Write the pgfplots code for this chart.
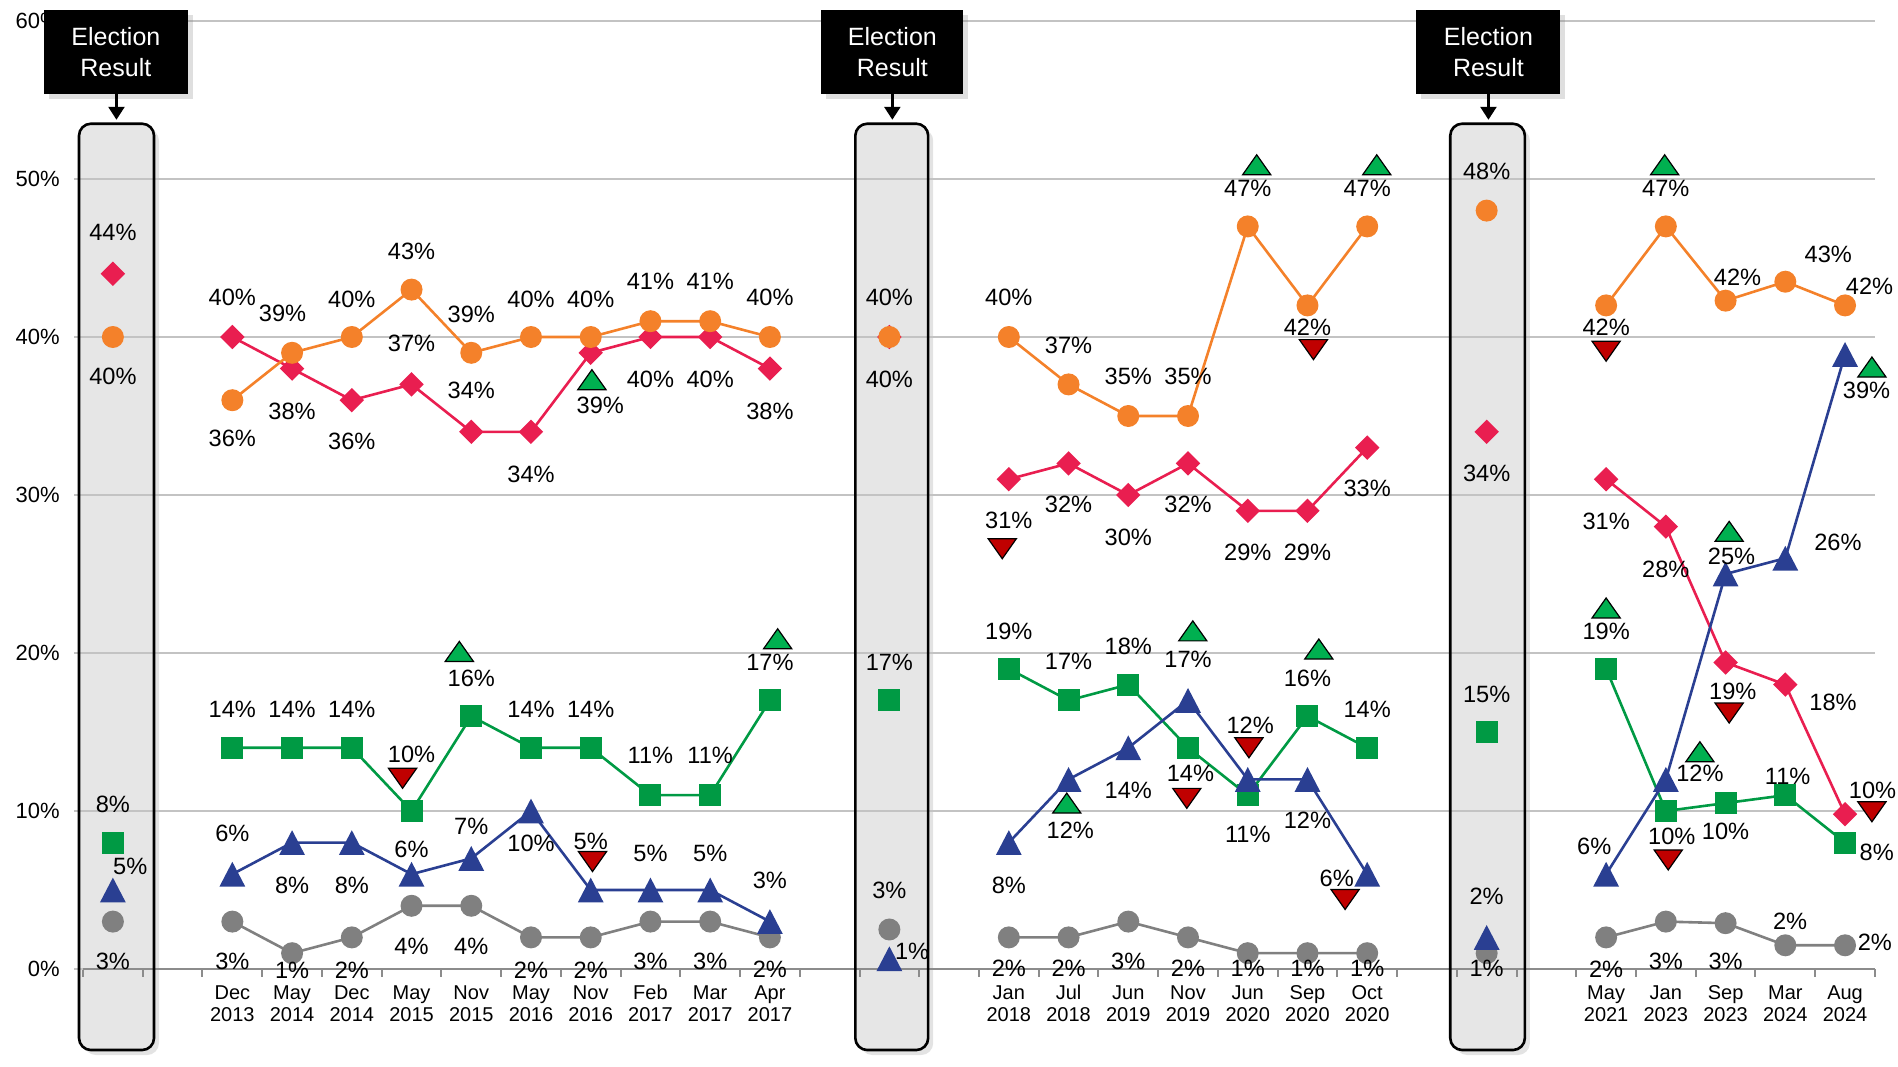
\documentclass[border=0pt]{standalone}
\usepackage{fontspec}
\setmainfont{Liberation Sans}
\usepackage{pgfplots}
\usepackage{pgfplotstable}
\pgfplotsset{compat=1.18}
\usetikzlibrary{arrows.meta,shadows}

\definecolor{cOrange}{RGB}{244,129,42}
\definecolor{cRed}{RGB}{233,30,80}
\definecolor{cGreen}{RGB}{0,154,68}
\definecolor{cBlue}{RGB}{42,63,146}
\definecolor{cGray}{RGB}{128,128,128}
\definecolor{upGreen}{RGB}{0,176,80}
\definecolor{dnRed}{RGB}{192,0,0}
\definecolor{gridgray}{RGB}{195,195,195}
\definecolor{axisgray}{RGB}{140,140,140}
\definecolor{boxgray}{RGB}{230,230,230}

\newcommand\lab{\fontsize{11.8}{12}\selectfont}

% marks centred on their bounding box
\pgfdeclareplotmark{dot}{\pgfpathcircle{\pgfpointorigin}{\pgfplotmarksize}\pgfusepathqfill}
\pgfdeclareplotmark{sq}{\pgfpathrectangle{\pgfpoint{-\pgfplotmarksize}{-\pgfplotmarksize}}{\pgfpoint{2\pgfplotmarksize}{2\pgfplotmarksize}}\pgfusepathqfill}
\pgfdeclareplotmark{dia}{%
  \pgfpathmoveto{\pgfpoint{0pt}{\pgfplotmarksize}}%
  \pgfpathlineto{\pgfpoint{\pgfplotmarksize}{0pt}}%
  \pgfpathlineto{\pgfpoint{0pt}{-\pgfplotmarksize}}%
  \pgfpathlineto{\pgfpoint{-\pgfplotmarksize}{0pt}}%
  \pgfpathclose\pgfusepathqfill}
\pgfdeclareplotmark{tri}{%
  \pgfpathmoveto{\pgfpoint{0pt}{\pgfplotmarksize}}%
  \pgfpathlineto{\pgfpoint{1.04\pgfplotmarksize}{-\pgfplotmarksize}}%
  \pgfpathlineto{\pgfpoint{-1.04\pgfplotmarksize}{-\pgfplotmarksize}}%
  \pgfpathclose\pgfusepathqfill}
\pgfdeclareplotmark{chup}{%
  \pgfpathmoveto{\pgfpoint{0pt}{\pgfplotmarksize}}%
  \pgfpathlineto{\pgfpoint{1.41\pgfplotmarksize}{-\pgfplotmarksize}}%
  \pgfpathlineto{\pgfpoint{-1.41\pgfplotmarksize}{-\pgfplotmarksize}}%
  \pgfpathclose\pgfusepathqfillstroke}
\pgfdeclareplotmark{chdn}{%
  \pgfpathmoveto{\pgfpoint{0pt}{-\pgfplotmarksize}}%
  \pgfpathlineto{\pgfpoint{1.41\pgfplotmarksize}{\pgfplotmarksize}}%
  \pgfpathlineto{\pgfpoint{-1.41\pgfplotmarksize}{\pgfplotmarksize}}%
  \pgfpathclose\pgfusepathqfillstroke}

% tick labels under the election boxes, grid above them
\pgfplotsset{
  layers/boxes/.define layer set={
    axis background,axis tick labels,pre main,axis grid,axis ticks,axis lines,main,axis descriptions,axis foreground
  }{
    grid style={/pgfplots/on layer=axis grid},
    tick style={/pgfplots/on layer=axis ticks},
    axis line style={/pgfplots/on layer=axis lines},
    label style={/pgfplots/on layer=axis descriptions},
    legend style={/pgfplots/on layer=axis descriptions},
    title style={/pgfplots/on layer=axis descriptions},
    ticklabel style={/pgfplots/on layer=axis tick labels},
  },
}

\pgfplotstableread{
x y
0 40
1 nan
2 36
3 39
4 40
5 43
6 39
7 40
8 40
9 41
10 41
11 40
12 nan
13 40
14 nan
15 40
16 37
17 35
18 35
19 47
20 42
21 47
22 nan
23 48
24 nan
25 42
26 47
27 42.3
28 43.5
29 42
}\orange

\pgfplotstableread{
x y
0 44
1 nan
2 40
3 38
4 36
5 37
6 34
7 34
8 39
9 40
10 40
11 38
12 nan
13 40
14 nan
15 31
16 32
17 30
18 32
19 29
20 29
21 33
22 nan
23 34
24 nan
25 31
26 28
27 19.4
28 18
29 9.8
}\red

\pgfplotstableread{
x y
0 8
1 nan
2 14
3 14
4 14
5 10
6 16
7 14
8 14
9 11
10 11
11 17
12 nan
13 17
14 nan
15 19
16 17
17 18
18 14
19 11
20 16
21 14
22 nan
23 15
24 nan
25 19
26 10
27 10.5
28 11
29 8
}\green

\pgfplotstableread{
x y
0 5
1 nan
2 6
3 8
4 8
5 6
6 7
7 10
8 5
9 5
10 5
11 3
12 nan
13 0.65
14 nan
15 8
16 12
17 14
18 17
19 12
20 12
21 6
22 nan
23 2
24 nan
25 6
26 12
27 25
28 26
29 38.9
}\blue

\pgfplotstableread{
x y
0 3
1 nan
2 3
3 1
4 2
5 4
6 4
7 2
8 2
9 3
10 3
11 2
12 nan
13 2.5
14 nan
15 2
16 2
17 3
18 2
19 1
20 1
21 1
22 nan
23 1
24 nan
25 2
26 3
27 2.9
28 1.5
29 1.5
}\grey

\pgfplotstableread{
x y
5.8 20.1
8.02 37.3
11.13 20.9
15.97 10.5
18.08 21.4
19.15 50.9
20.19 20.25
21.16 50.9
25.0 22.85
25.98 50.9
26.57 13.75
27.06 27.7
29.45 38.1
}\ups

\pgfplotstableread{
x y
4.85 12.07
8.03 6.8
14.89 26.6
17.98 10.8
19.02 14.0
20.1 39.2
20.63 4.4
25.0 39.1
26.04 6.9
27.06 16.2
29.45 9.95
}\downs

% value labels: where each is set, and its text
\pgfplotstableread{
x y t
0 46.6 44
0 37.5 40
0 10.45 8
0.29 6.5 5
0 0.46 3
2 42.5 40
2 33.6 36
2 16.4 14
2 8.6 6
2 0.46 3
2.84 41.5 39
3 35.3 38
3 16.4 14
3 5.3 8
3 -0.06 1
4 42.4 40
4 33.4 36
4 16.4 14
4 5.3 8
4 -0.06 2
5 45.4 43
5 39.6 37
5 13.6 10
5 7.6 6
5 1.46 4
6 41.45 39
6 36.6 34
6 18.4 16
6 9.05 7
6 1.46 4
7 42.4 40
7 31.3 34
7 16.4 14
7 7.95 10
7 -0.06 2
8 42.4 40
8.16 35.7 39
8 16.4 14
8 8.1 5
8 -0.06 2
9 43.5 41
9 37.3 40
9 13.5 11
9 7.3 5
9 0.5 3
10 43.5 41
10 37.3 40
10 13.5 11
10 7.3 5
10 0.5 3
11 42.5 40
11 35.3 38
11 19.4 17
11 5.6 3
11 0 2
13 42.5 40
13 37.3 40
13 19.4 17
13 5.0 3
13.38 1.1 1
15 42.5 40
15 28.4 31
15 21.35 19
15 5.3 8
15 0.06 2
16 39.5 37
16 29.4 32
16 19.45 17
16.03 8.8 12
16 0.06 2
17 37.5 35
17 27.3 30
17 20.4 18
17 11.3 14
17 0.46 3
18 37.5 35
18 29.4 32
18 19.6 17
18.04 12.4 14
18 0.06 2
19 49.4 47
19 26.35 29
19.04 15.4 12
19 8.5 11
19 0.06 1
20 40.6 42
20 26.35 29
20 18.4 16
20 9.4 12
20 0.06 1
21 49.4 47
21 30.4 33
21 16.45 14
20.49 5.75 6
21 0.06 1
23 50.5 48
23 31.4 34
23 17.4 15
23 4.6 2
23 0.06 1
25 40.6 42
25 28.3 31
25 21.4 19
24.8 7.75 6
25 0 2
26 49.4 47
26 25.3 28
26.57 12.4 12
26.1 8.4 10
26 0.46 3
27.2 43.8 42
27.12 17.6 19
27.1 26.1 25
27 8.7 10
27 0.46 3
28.72 45.25 43
28.8 16.9 18
28.88 27.0 26
28.04 12.2 11
28.08 3.0 2
29.41 43.2 42
29.46 11.3 10
29.36 36.6 39
29.53 7.4 8
29.5 1.66 2
}\labels

\begin{document}
\begin{tikzpicture}
\begin{axis}[
    set layers=boxes,
    x=29.865pt, y=7.9pt,
    xmin=-0.5, xmax=29.5,
    ymin=0, ymax=60,
    clip=false,
    axis x line*=bottom, axis y line*=left,
    x axis line style={draw=axisgray, line width=1pt},
    y axis line style={draw=none},
    ymajorgrids=true,
    grid style={draw=gridgray, line width=1pt},
    tick align=outside,
    major tick length=4.5pt, minor tick length=4pt,
    ytick={0,10,20,30,40,50,60},
    yticklabels={0\%,10\%,20\%,30\%,40\%,50\%,60\%},
    ytick style={draw=gridgray, line width=1pt},
    yticklabel style={font=\fontsize{11}{12}\selectfont, anchor=east, inner sep=0pt, xshift=-7pt},
    xtick={0,2,3,4,5,6,7,8,9,10,11,15,16,17,18,19,20,21,25,26,27,28,29},
    xticklabels={{~\\~\\~\\[-2.5pt]2013},{Dec\\2013},{May\\2014},{Dec\\2014},{May\\2015},{Nov\\2015},{May\\2016},{Nov\\2016},{Feb\\2017},{Mar\\2017},{Apr\\2017},
      {Jan\\2018},{Jul\\2018},{Jun\\2019},{Nov\\2019},{Jun\\2020},{Sep\\2020},{Oct\\2020},
      {May\\2021},{Jan\\2023},{Sep\\2023},{Mar\\2024},{Aug\\2024}},
    xticklabel style={font=\fontsize{10}{11}\selectfont, align=center, anchor=north, inner sep=0pt, yshift=-3.5pt},
    major x tick style={draw=none},
    minor xtick={-0.5,0.5,...,29.5},
    minor x tick style={draw=axisgray, line width=1pt},
    unbounded coords=jump,
    every axis plot/.append style={line width=1.3pt},
]

% election boxes: fill under the grid, border over it
\begin{pgfonlayer}{pre main}
\fill[boxgray, rounded corners=6pt, drop shadow={shadow xshift=2.5pt, shadow yshift=-2.5pt, opacity=0.22}]
  (axis cs:-0.567,-5.13) rectangle (axis cs:0.689,53.5);
\fill[boxgray, rounded corners=6pt, drop shadow={shadow xshift=2.5pt, shadow yshift=-2.5pt, opacity=0.22}]
  (axis cs:12.43,-5.13) rectangle (axis cs:13.65,53.5);
\fill[boxgray, rounded corners=6pt, drop shadow={shadow xshift=2.5pt, shadow yshift=-2.5pt, opacity=0.22}]
  (axis cs:22.39,-5.13) rectangle (axis cs:23.64,53.5);
\end{pgfonlayer}
\draw[black, line width=1.3pt, rounded corners=6pt] (axis cs:-0.567,-5.13) rectangle (axis cs:0.689,53.5);
\draw[black, line width=1.3pt, rounded corners=6pt] (axis cs:12.43,-5.13) rectangle (axis cs:13.65,53.5);
\draw[black, line width=1.3pt, rounded corners=6pt] (axis cs:22.39,-5.13) rectangle (axis cs:23.64,53.5);

\addplot[color=cGray, mark=dot, mark size=5.5pt] table[x=x, y=y] {\grey};
\addplot[color=cGreen, mark=sq, mark size=5.5pt] table[x=x, y=y] {\green};
\addplot[color=cRed, mark=dia, mark size=6.1pt] table[x=x, y=y] {\red};
\addplot[color=cOrange, mark=dot, mark size=5.5pt] table[x=x, y=y] {\orange};
\addplot[color=cBlue, mark=tri, mark size=6.2pt] table[x=x, y=y] {\blue};

\addplot[only marks, mark=chup, mark size=5pt, mark options={draw=black, fill=upGreen, line width=0.6pt}] table[x=x, y=y] {\ups};
\addplot[only marks, mark=chdn, mark size=5pt, mark options={draw=black, fill=dnRed, line width=0.6pt}] table[x=x, y=y] {\downs};

\addplot[only marks, mark=none, point meta=explicit symbolic,
    nodes near coords={\pgfplotspointmeta\%},
    nodes near coords align={anchor=center},
    every node near coord/.append style={font=\lab, text=black, inner sep=0pt}]
  table[x=x, y=y, meta=t] {\labels};

% callouts
\fill[black, drop shadow={shadow xshift=2.5pt, shadow yshift=-2.5pt, opacity=0.25}]
  (axis cs:-1.153,55.4) rectangle (axis cs:1.257,60.7);
\fill[black, drop shadow={shadow xshift=2.5pt, shadow yshift=-2.5pt, opacity=0.25}]
  (axis cs:11.85,55.4) rectangle (axis cs:14.24,60.7);
\fill[black, drop shadow={shadow xshift=2.5pt, shadow yshift=-2.5pt, opacity=0.25}]
  (axis cs:21.82,55.4) rectangle (axis cs:24.23,60.7);
\node[text=white, align=center, font=\fontsize{12.5}{15.5}\selectfont] at (axis cs:0.05,58.05) {Election\\Result};
\node[text=white, align=center, font=\fontsize{12.5}{15.5}\selectfont] at (axis cs:13.05,58.05) {Election\\Result};
\node[text=white, align=center, font=\fontsize{12.5}{15.5}\selectfont] at (axis cs:23.03,58.05) {Election\\Result};
\draw[black, line width=1.3pt, -{Triangle[width=8pt, length=6.5pt]}] (axis cs:0.06,55.4) -- (axis cs:0.06,53.75);
\draw[black, line width=1.3pt, -{Triangle[width=8pt, length=6.5pt]}] (axis cs:13.05,55.4) -- (axis cs:13.05,53.75);
\draw[black, line width=1.3pt, -{Triangle[width=8pt, length=6.5pt]}] (axis cs:23.03,55.4) -- (axis cs:23.03,53.75);

\coordinate (bbsw) at (axis cs:-1.890,-6.14);
\coordinate (bbne) at (axis cs:29.887,61.33);
\end{axis}
\pgfresetboundingbox
\path[use as bounding box] (bbsw) rectangle (bbne);
\end{tikzpicture}
\end{document}
